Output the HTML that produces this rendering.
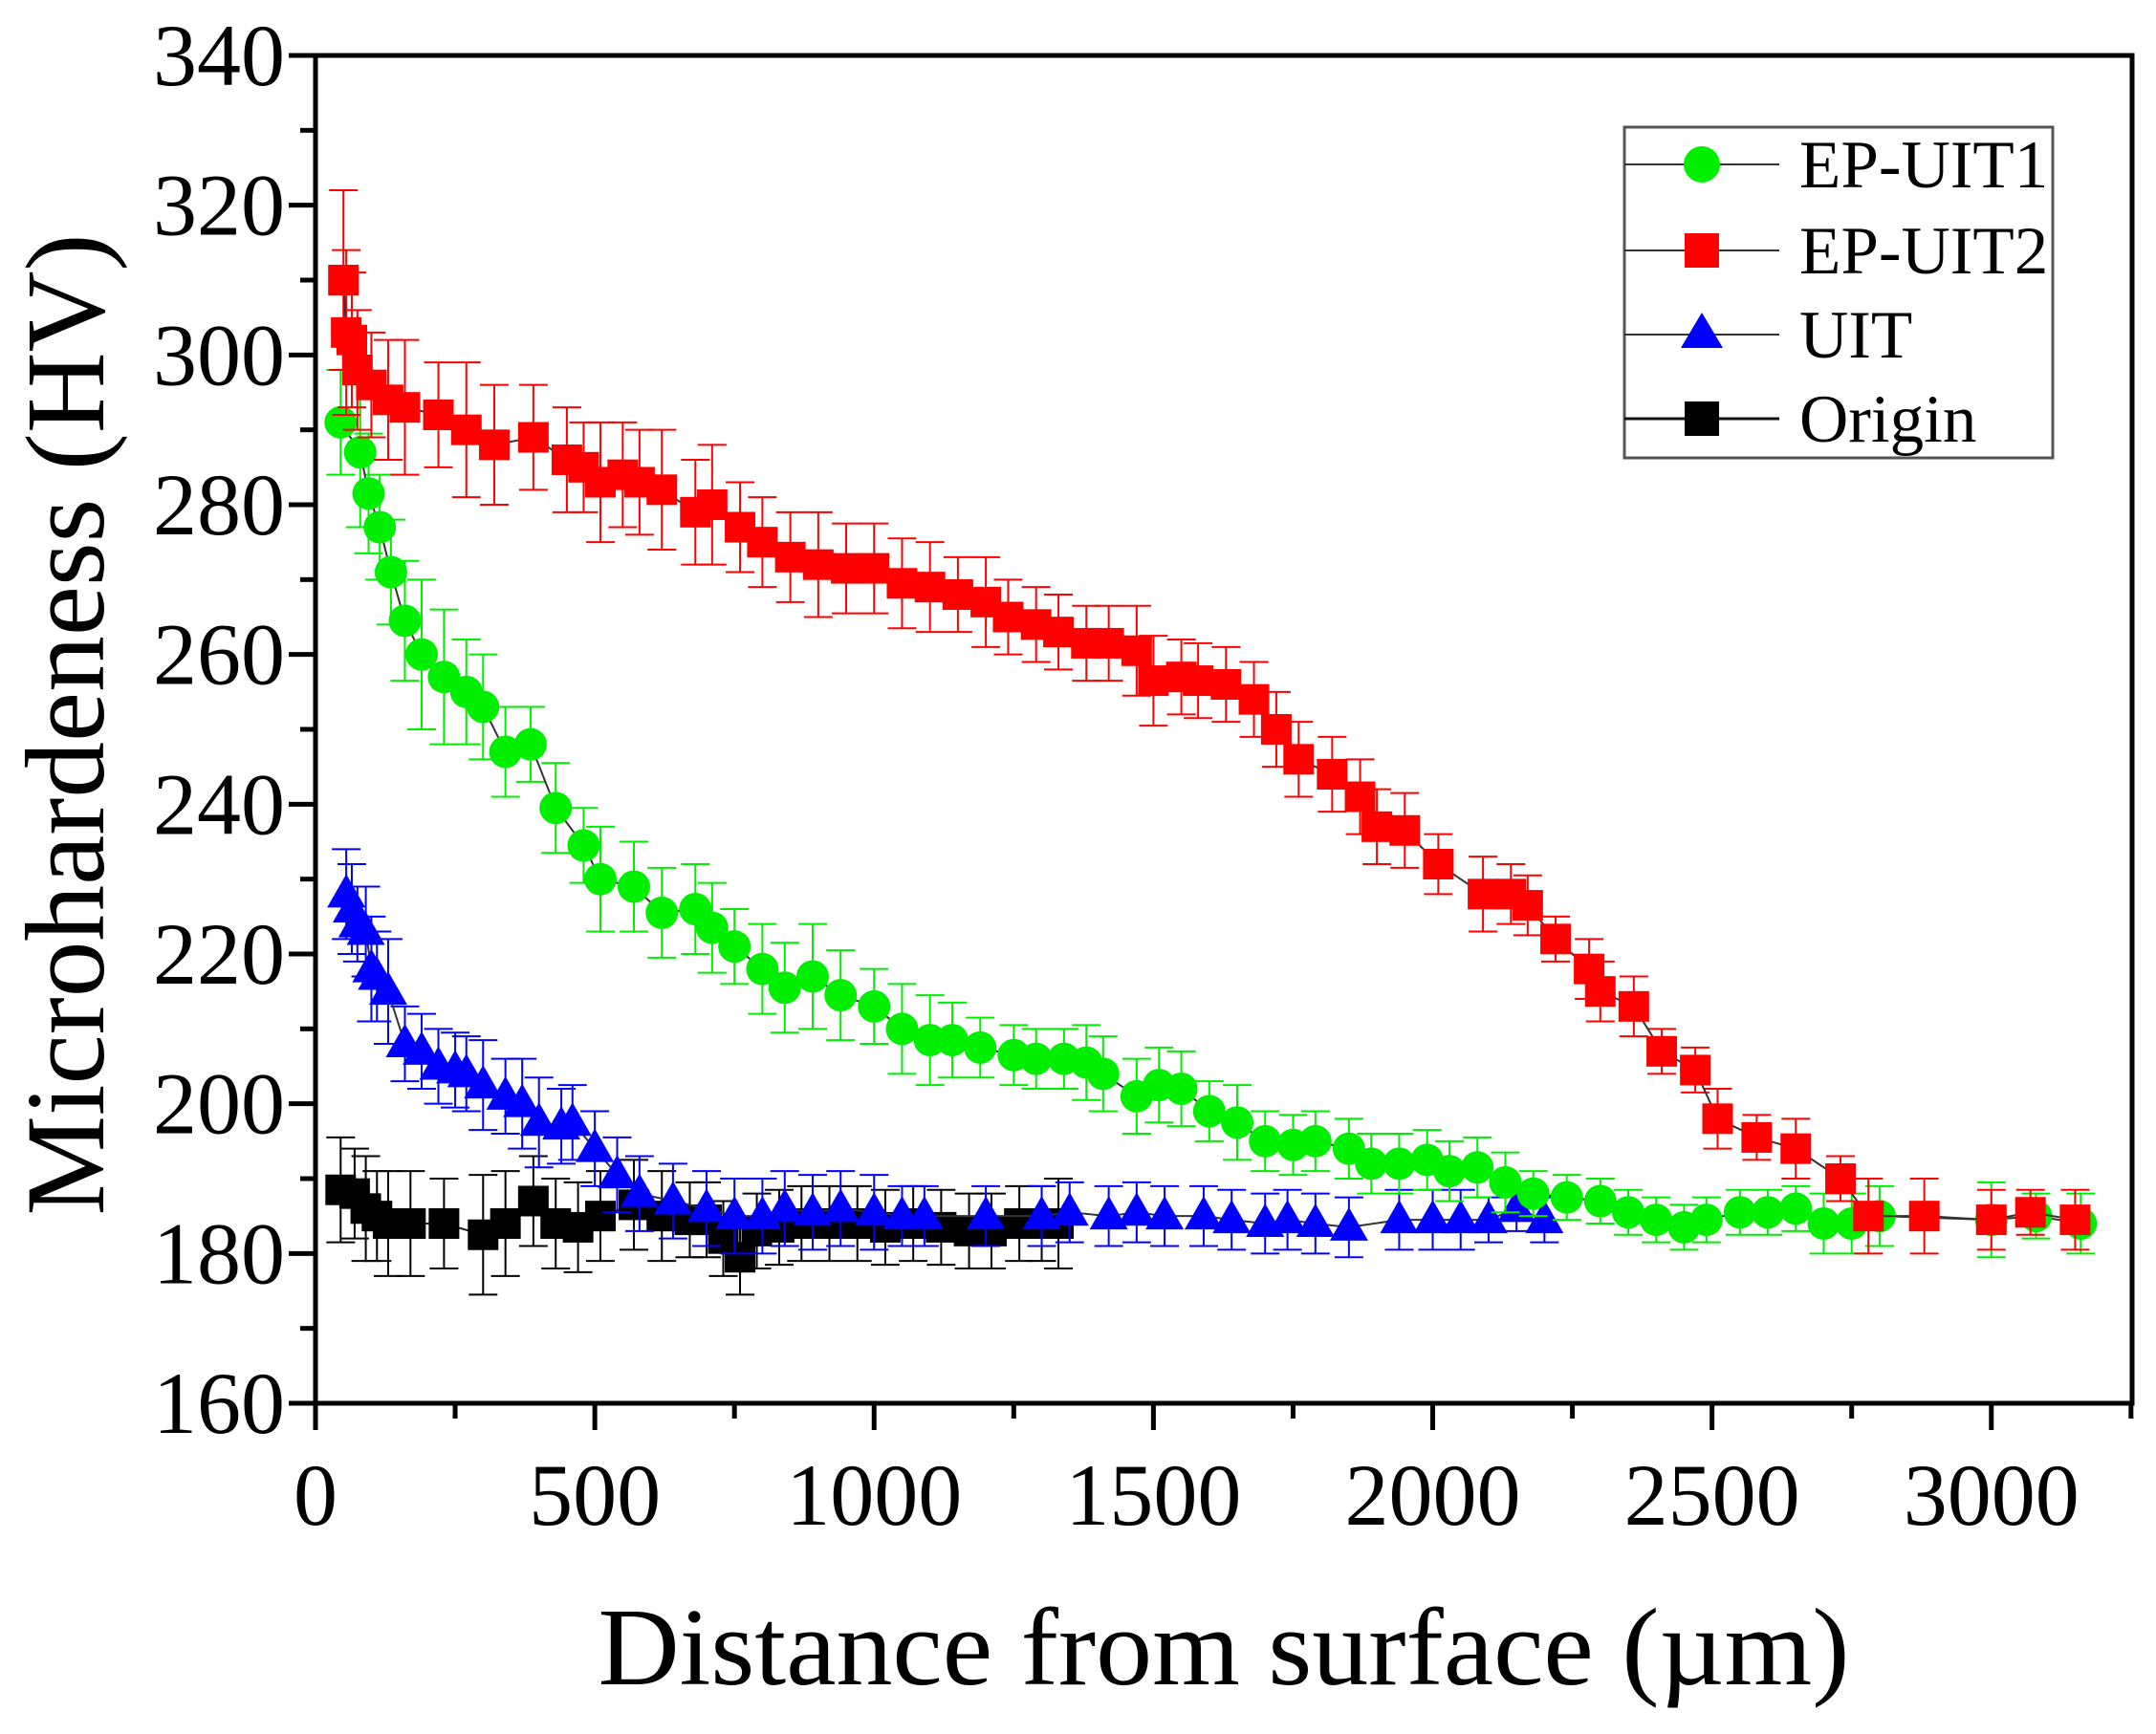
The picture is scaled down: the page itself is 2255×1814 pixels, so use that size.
<!DOCTYPE html>
<html><head><meta charset="utf-8"><style>
html,body{margin:0;padding:0;background:#fff;}
svg{display:block;font-family:"Liberation Serif",serif;}
</style></head><body>
<svg id="chart" width="2255" height="1814" viewBox="0 0 2255 1814" xmlns="http://www.w3.org/2000/svg">
<rect width="2255" height="1814" fill="#fff"/>
<g id="series"></g>
<g id="axes"></g>
<g>
<rect x="1699" y="133" width="448" height="346" fill="#fff" stroke="#555" stroke-width="3"/>
<g><line x1="1699" y1="172" x2="1861" y2="172" stroke="#333" stroke-width="2"/><circle cx="1780" cy="172" r="19" fill="#00ee00"/><text x="1882" y="196" font-size="71">EP-UIT1</text></g>
<g><line x1="1699" y1="262" x2="1861" y2="262" stroke="#333" stroke-width="2"/><rect x="1762" y="244" width="36" height="36" fill="#ff0000"/><text x="1882" y="286" font-size="71">EP-UIT2</text></g>
<g><line x1="1699" y1="350" x2="1861" y2="350" stroke="#333" stroke-width="2"/><polygon points="1780,327 1802,364 1758,364" fill="#0000ff"/><text x="1882" y="374" font-size="71">UIT</text></g>
<g><line x1="1699" y1="438" x2="1861" y2="438" stroke="#111" stroke-width="3"/><rect x="1762" y="420" width="36" height="36" fill="#000"/><text x="1882" y="462" font-size="71">Origin</text></g>
</g>
<text transform="translate(108,758) rotate(-90)" text-anchor="middle" font-size="118" textLength="1027" lengthAdjust="spacingAndGlyphs">Microhardeness (HV)</text>
<text x="1280" y="1762" text-anchor="middle" font-size="116" textLength="1309" lengthAdjust="spacingAndGlyphs">Distance from surface (µm)</text>
</svg>
<script>
const uit2X=[50,55,65,75,100,130,160,220,270,320,390,450,480,510,550,580,620,680,710,760,800,850,900,950,1000,1050,1100,1150,1200,1240,1290,1330,1380,1420,1470,1500,1550,1580,1630,1680,1720,1760,1820,1870,1900,1950,2010,2090,2140,2170,2220,2280,2300,2360,2410,2470,2510,2580,2650,2730,2780,2880,3000,3070,3150];
const uit2Y=[310,303,302,298,296,294,293,292,290,288,289,286,285,283,284,283,282,279,280,277,275,273,272,271.5,271.5,269.5,269,268,267,265,264,263,261.5,261.5,260.5,256.5,257,256.5,256,254,250,246,244,241,237,236.5,232,228,228,226.5,222,218,215,213,207,204.5,198,195.5,194,190,185,185,184.5,185.5,184.5];
const uit2E=[12,11,9,8,7,8,9,7,9,8,7,7,6,8,7,7,8,7,8,6,6,6,7,6,6,6,6,5,6,5,5,5,5,5,6,6,5,5,5,5,5,5,5,5,5,5,4,5,4,4,3,4,4,4,3,3,4,3,4,3,5,5,4,3,4];
const ep1X=[45,80,95,115,135,160,190,230,270,300,340,385,430,480,510,570,620,680,710,750,800,840,890,940,1000,1050,1100,1140,1190,1250,1290,1340,1380,1410,1470,1510,1550,1600,1650,1700,1750,1790,1850,1890,1940,1990,2030,2080,2130,2180,2240,2300,2350,2400,2450,2490,2550,2600,2650,2700,2750,2800,3000,3080,3160];
const ep1Y=[291,287,281.5,277,271,264.5,260,257,255,253,247,248,239.5,234.5,230,229,225.5,226,223.5,221,218,215.5,217,214.5,213,210,208.5,208.5,207.5,206.5,206,206,205.5,204,201,202.5,202,199,197.5,195,194.5,195,194,192,192,192.5,191,191.5,189.5,188,187.5,187,185.5,184.5,183.5,184.5,185.5,185.5,186,184,184,185,184.5,185,184];
const ep1E=[7,10,8,7,7,8,10,9,7,7,6,5,6,5,7,6,6,6,6,5,6,6,7,6,5,6,6,5,4,4,4,4,5,5,5,5,5,4,5,4,4,4,4,4,4,4,4,4,4,3,3,3,3,3,3,3,3,3,3,4,4,4,5,3,4];
const uitX=[55,65,75,90,100,110,130,160,190,220,250,270,300,340,370,400,440,460,500,540,580,640,700,750,800,840,890,940,1000,1050,1090,1200,1300,1350,1420,1470,1520,1590,1640,1700,1740,1790,1850,1940,2000,2050,2100,2150,2200];
const uitY=[228,226,224,223,218,217,215,208,207,205,204.5,204,202.5,201,200,197.5,197,197.5,194,190.5,188,187,186,185,185,186,185.5,186,185.5,185,185,185,185,185.5,185,185.5,185,185,184.5,184,184.5,184,183.5,184.5,184.5,184.5,184.5,186,184.5];
const uitE=[6,6,5,6,7,6,7,5,5,5,5,5,6,5,6,6,5,5,5,5,5,5,5,5,5,5,5,5,5,4,4,4,4,4,4,4,4,4,4,4,4,4,4,4,4,4,3,3,3];
const orgX=[45,70,90,110,130,170,230,300,340,390,430,470,510,570,620,670,700,730,760,790,830,870,920,970,1020,1070,1120,1170,1210,1260,1300,1330];
const orgY=[188.5,188,186,185,184,184,184,182.5,184,187,184,183.5,185,186.5,185,184.5,184.5,182,179.5,183,183.5,184,184,184,183.5,184,183.5,183,183,184,184,184];
const orgE=[7,6,7,6,7,7,6,8,7,6,6,6,6,6,6,5,5,5,5,5,5,5,5,5,5,5,5,5,5,5,5,6];
const xTicks=[0,500,1000,1500,2000,2500,3000];
const yTicks=[160,180,200,220,240,260,280,300,320,340];

const NS="http://www.w3.org/2000/svg";
const X0=330,X1=2230,Y0=1468,Y1=58,XMAX=3252,YMIN=160,YMAX=340;
function sx(v){return X0+(v/XMAX)*(X1-X0);}
function sy(v){return Y0-(v-YMIN)/(YMAX-YMIN)*(Y0-Y1);}
function mk(tag,attrs,parent){const e=document.createElementNS(NS,tag);for(const k in attrs)e.setAttribute(k,attrs[k]);parent.appendChild(e);return e;}
const series=document.getElementById('series');
const axes=document.getElementById('axes');
function drawSeries(name,xs,ys,es,color,shape,lineColor){
  const g=mk('g',{},series);
  
  
  const eg=mk('g',{stroke:color,'stroke-width':2,fill:'none'},g);
  for(let i=0;i<xs.length;i++){
    const x=sx(xs[i]),yt=sy(ys[i]+es[i]),yb=sy(ys[i]-es[i]);
    const p=mk('path',{d:`M${x},${yt}V${yb}M${x-15},${yt}H${x+15}M${x-15},${yb}H${x+15}`},eg);
    
    
  }
  const pl=mk('polyline',{points:xs.map((v,i)=>sx(v)+','+sy(ys[i])).join(' '),fill:'none',stroke:lineColor,'stroke-width':2},g);
  
  
  for(let i=0;i<xs.length;i++){
    const x=sx(xs[i]),y=sy(ys[i]);let m;
    if(shape==='circle')m=mk('circle',{cx:x,cy:y,r:17,fill:color},g);
    else if(shape==='square')m=mk('rect',{x:x-16,y:y-16,width:32,height:32,fill:color},g);
    else m=mk('polygon',{points:`${x},${y-21} ${x+20},${y+14} ${x-20},${y+14}`,fill:color},g);
    
    
  }
}
drawSeries('origin',orgX,orgY,orgE,'#000','square','#222');
drawSeries('uit',uitX,uitY,uitE,'#0000ff','triangle','#333');
drawSeries('ep-uit1',ep1X,ep1Y,ep1E,'#00ee00','circle','#333');
drawSeries('ep-uit2',uit2X,uit2Y,uit2E,'#ff0000','square','#333');

const frame=mk('rect',{x:X0,y:Y1,width:X1-X0,height:Y0-Y1,fill:'none',stroke:'#000','stroke-width':5},axes);


for(let i=0;i<xTicks.length;i++){
  const x=sx(xTicks[i]);
  mk('line',{x1:x,y1:Y0,x2:x,y2:Y0+28,stroke:'#000','stroke-width':5},axes);
  if(i<xTicks.length-1){const xm=sx(xTicks[i]+250);mk('line',{x1:xm,y1:Y0,x2:xm,y2:Y0+16,stroke:'#000','stroke-width':5},axes);}
  const t=mk('text',{x:x,y:Y0+127,'text-anchor':'middle','font-size':92},axes);
  t.textContent=xTicks[i];
  
  
}
{const xm=sx(3250);mk('line',{x1:xm,y1:Y0,x2:xm,y2:Y0+16,stroke:'#000','stroke-width':5},axes);}
for(let i=0;i<yTicks.length;i++){
  const y=sy(yTicks[i]);
  mk('line',{x1:X0-28,y1:y,x2:X0,y2:y,stroke:'#000','stroke-width':5},axes);
  if(i<yTicks.length-1){const ym=sy(yTicks[i]+10);mk('line',{x1:X0-16,y1:ym,x2:X0,y2:ym,stroke:'#000','stroke-width':5},axes);}
  const t=mk('text',{x:X0-32,y:y+31,'text-anchor':'end','font-size':92},axes);
  t.textContent=yTicks[i];
  
  
}
</script>
</body></html>
